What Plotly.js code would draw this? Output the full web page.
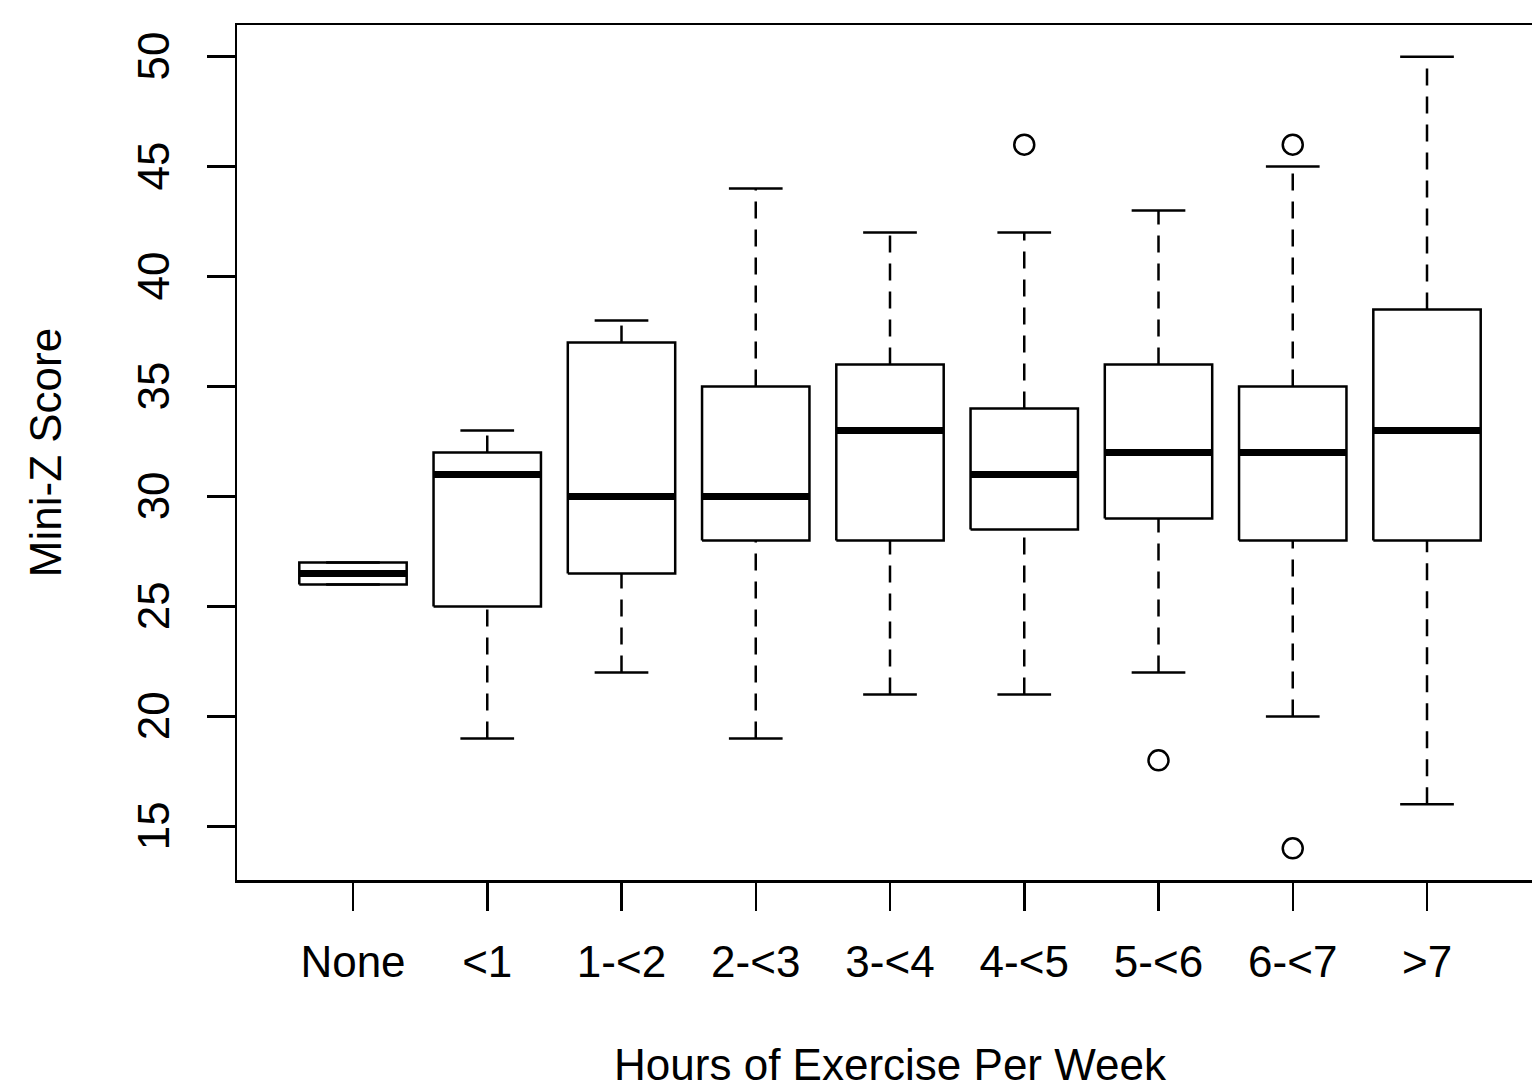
<!DOCTYPE html>
<html>
<head>
<meta charset="utf-8">
<script src="https://cdn.plot.ly/plotly-3.0.1.min.js"></script>
<style>
html, body { margin: 0; padding: 0; overflow: hidden; background: #fff; }
#chart { width: 1560px; height: 1120px; }
</style>
</head>
<body>
<div id="chart"></div>
<script>
// ---- data ----
const categories   = ['None', '<1', '1-<2', '2-<3', '3-<4', '4-<5', '5-<6', '6-<7', '>7'];
const lowerWhisker = [26, 19, 22,   19, 21, 21,   22, 20, 16];
const q1           = [26, 25, 26.5, 28, 28, 28.5, 29, 28, 28];
const median       = [26.5, 31, 30, 30, 33, 31,   32, 32, 33];
const q3           = [27, 32, 37,   35, 36, 34,   36, 35, 38.5];
const upperWhisker = [27, 33, 38,   44, 42, 42,   43, 45, 50];
const outlierCategory = ['4-<5', '5-<6', '6-<7', '6-<7'];
const outlierValue    = [46, 18, 46, 14];

const xTitle = 'Hours of Exercise Per Week';
const yTitle = 'Mini-Z Score';

// ---- build the R-style box plot from the arrays ----
const boxHalf = 0.4;   // boxwex 0.8
const capHalf = 0.2;   // staplewex 0.5

const boxX = [], boxY = [];
const medX = [], medY = [];
const whiskX = [], whiskY = [];
const capX = [], capY = [];

categories.forEach((c, i) => {
  const a = i - boxHalf, b = i + boxHalf;
  boxX.push(a, b, b, a, a, null);
  boxY.push(q1[i], q1[i], q3[i], q3[i], q1[i], null);
  medX.push(a, b, null);
  medY.push(median[i], median[i], null);
  whiskX.push(i, i, null, i, i, null);
  whiskY.push(lowerWhisker[i], q1[i], null, q3[i], upperWhisker[i], null);
  capX.push(i - capHalf, i + capHalf, null, i - capHalf, i + capHalf, null);
  capY.push(lowerWhisker[i], lowerWhisker[i], null, upperWhisker[i], upperWhisker[i], null);
});

const outX = outlierCategory.map(c => categories.indexOf(c));

const black = '#000';
const traces = [
  { type: 'scatter', mode: 'lines', x: whiskX, y: whiskY,
    line: { color: black, width: 2.5, dash: '17px,11px' }, hoverinfo: 'skip' },
  { type: 'scatter', mode: 'lines', x: capX, y: capY,
    line: { color: black, width: 2.5 }, hoverinfo: 'skip' },
  { type: 'scatter', mode: 'lines', x: boxX, y: boxY,
    line: { color: black, width: 2.5 }, hoverinfo: 'skip' },
  { type: 'scatter', mode: 'lines', x: medX, y: medY,
    line: { color: black, width: 7 }, hoverinfo: 'skip' },
  { type: 'scatter', mode: 'markers', x: outX, y: outlierValue,
    marker: { symbol: 'circle-open', size: 20, color: black, line: { color: black, width: 2.5 } },
    hoverinfo: 'skip' }
];

const font = { family: 'Liberation Sans, Arial, sans-serif', size: 44, color: black };

const layout = {
  width: 1560,
  height: 1120,
  margin: { l: 237, r: 17, t: 25, b: 240, pad: 0 },
  paper_bgcolor: '#fff',
  plot_bgcolor: '#fff',
  showlegend: false,
  hovermode: false,
  font: font,
  xaxis: {
    range: [-0.864, 8.864],
    tickmode: 'array',
    tickvals: categories.map((c, i) => i),
    ticktext: categories,
    ticks: 'outside', ticklen: 28, tickwidth: 2.5, tickcolor: black,
    showline: true, mirror: true, linewidth: 2.5, linecolor: black,
    showgrid: false, zeroline: false,
    ticklabelstandoff: 14,
    tickfont: font,
    title: { text: xTitle, font: font, standoff: 64 }
  },
  yaxis: {
    range: [12.56, 51.44],
    tick0: 15, dtick: 5,
    tickangle: -90,
    ticks: 'outside', ticklen: 28, tickwidth: 2.5, tickcolor: black,
    showline: true, mirror: true, linewidth: 2.5, linecolor: black,
    showgrid: false, zeroline: false,
    ticklabelstandoff: 20,
    ticklabelshift: 6,
    tickfont: font,
    title: { text: yTitle, font: font, standoff: 54 }
  }
};

Plotly.newPlot('chart', traces, layout, { staticPlot: true, displayModeBar: false });
</script>
</body>
</html>
